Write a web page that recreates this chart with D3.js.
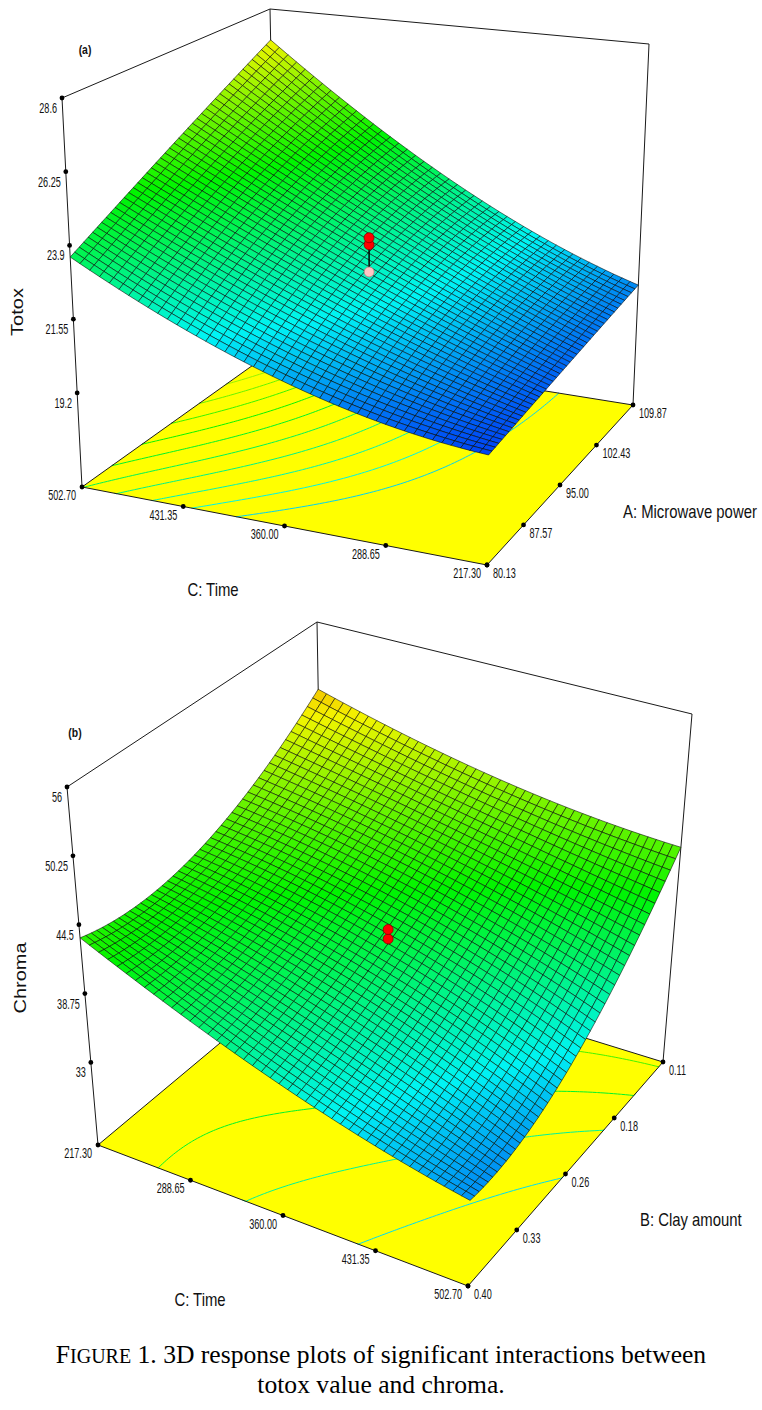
<!DOCTYPE html>
<html><head><meta charset="utf-8">
<script src="https://cdn.jsdelivr.net/npm/d3@7"></script>
<style>body{margin:0;background:#fff}svg{display:block}</style>
</head><body>
<svg id="chart" width="762" height="1410"></svg>
<script>
// ---------------- data ----------------
const timeTicks = [217.30, 288.65, 360.00, 431.35, 502.70];
const timeTickLabels = ["217.30", "288.65", "360.00", "431.35", "502.70"];
const powerTicks = [80.13, 87.57, 95.00, 102.43, 109.87];
const powerTickLabels = ["80.13", "87.57", "95.00", "102.43", "109.87"];
const clayTicks = [0.11, 0.1825, 0.255, 0.3275, 0.40];
const clayTickLabels = ["0.11", "0.18", "0.26", "0.33", "0.40"];
const totoxTicks = [19.2, 21.55, 23.9, 26.25, 28.6];
const totoxTickLabels = ["19.2", "21.55", "23.9", "26.25", "28.6"];
const chromaTicks = [33, 38.75, 44.5, 50.25, 56];
const chromaTickLabels = ["33", "38.75", "44.5", "50.25", "56"];

// factor levels (low, centre, high)
const timeLevels = [217.30, 360.00, 502.70];
const powerLevels = [80.13, 95.00, 109.87];
const clayLevels = [0.11, 0.255, 0.40];
// response (rows: 2nd factor, cols: time)
const totoxGrid = [
  [19.52, 20.70, 23.53],   // A = 80.13
  [19.90, 22.30, 25.38],   // A = 95.00
  [20.32, 23.00, 27.47]    // A = 109.87
];
const chromaGrid = [
  [50.00, 46.20, 44.55],   // B = 0.11
  [43.50, 40.40, 35.20],   // B = 0.255
  [43.40, 36.90, 33.00]    // B = 0.40
];
// design (centre) points
const totoxCenterPts = [23.26, 23.03, 22.13];
const chromaCenterPts = [41.6, 40.8];
// floor contour levels
const totoxLevels = [21.22, 21.79, 22.36, 22.93, 23.50, 24.07, 24.64, 25.21, 25.78, 26.35, 26.92];
const chromaLevels = [35, 38, 41, 44, 47];

// ---------------- helpers ----------------
const svg = d3.select('#chart');
const colormap = d3.scaleLinear().domain([0, .25, .5, .75, 1])
  .range(['#0000ff', '#00ffff', '#00ff00', '#ffff00', '#ff0000']).clamp(true);

// box projection: interpolate between the 8 drawn corners of the box
function makeProjection(frame) {
  return (u, v, w) => {
    let x = 0, y = 0;
    frame.forEach(c => {
      const [a, b, e] = c.uvw;
      const wt = (a ? u : 1 - u) * (b ? v : 1 - v) * (e ? w : 1 - w);
      x += wt * c.xy[0]; y += wt * c.xy[1];
    });
    return [x, y, v - u - 0.6 * w];
  };
}
function lagrange(levels, x) {
  const [a, b, c] = levels;
  return [(x - b) * (x - c) / ((a - b) * (a - c)), (x - a) * (x - c) / ((b - a) * (b - c)), (x - a) * (x - b) / ((c - a) * (c - b))];
}

const panels = [
  {
    letter: '(a)', zTitle: 'Totox', uTitle: 'C: Time', vTitle: 'A: Microwave power',
    uDomain: [502.70, 217.30], uTicks: timeTicks, uLabels: timeTickLabels,
    vDomain: [80.13, 109.87], vTicks: powerTicks, vLabels: powerTickLabels,
    zDomain: [16.2, 28.6], zTicks: totoxTicks, zLabels: totoxTickLabels,
    grid: totoxGrid, rowLevels: powerLevels, colLevels: timeLevels,
    colorDomain: [18.70, 30.40], levels: totoxLevels,
    points: totoxCenterPts, pointAt: { u: 360.00, v: 95.00 },
    frame: [
      { uvw: [0, 0, 0], xy: [82, 487] }, { uvw: [1, 0, 0], xy: [487, 565] },
      { uvw: [1, 1, 0], xy: [633, 405] }, { uvw: [0, 1, 0], xy: [277, 348] },
      { uvw: [0, 0, 1], xy: [62, 98] }, { uvw: [1, 0, 1], xy: [493, 154] },
      { uvw: [1, 1, 1], xy: [649, 44] }, { uvw: [0, 1, 1], xy: [270, 9] }
    ],
    letterPos: [85, 54], zTitlePos: [17, 312], uTitlePos: [213, 596], vTitlePos: [623, 518]
  },
  {
    letter: '(b)', zTitle: 'Chroma', uTitle: 'C: Time', vTitle: 'B: Clay amount',
    uDomain: [217.30, 502.70], uTicks: timeTicks, uLabels: timeTickLabels,
    vDomain: [0.40, 0.11], vTicks: clayTicks, vLabels: clayTickLabels,
    zDomain: [26.1, 56], zTicks: chromaTicks, zLabels: chromaTickLabels,
    grid: chromaGrid, rowLevels: clayLevels, colLevels: timeLevels,
    colorDomain: [29.07, 55.25], levels: chromaLevels,
    points: chromaCenterPts, pointAt: { u: 360.00, v: 0.255 },
    frame: [
      { uvw: [0, 0, 0], xy: [98, 1145] }, { uvw: [1, 0, 0], xy: [468, 1286] },
      { uvw: [1, 1, 0], xy: [663, 1062] }, { uvw: [0, 1, 0], xy: [323, 957] },
      { uvw: [0, 0, 1], xy: [67, 787] }, { uvw: [1, 0, 1], xy: [477, 915] },
      { uvw: [1, 1, 1], xy: [692, 714] }, { uvw: [0, 1, 1], xy: [317, 622] }
    ],
    letterPos: [75, 737], zTitlePos: [20, 978], uTitlePos: [200, 1306], vTitlePos: [640, 1226]
  }
];

const MESH = 44;
const sansFont = '"Liberation Sans", Arial, sans-serif';

function drawPanel(cfg) {
  const g = svg.append('g');
  const uS = d3.scaleLinear().domain(cfg.uDomain).range([0, 1]);
  const vS = d3.scaleLinear().domain(cfg.vDomain).range([0, 1]);
  const wS = d3.scaleLinear().domain(cfg.zDomain).range([0, 1]);
  const colorT = d3.scaleLinear().domain(cfg.colorDomain).range([0, 1]);
  const shade = z => d3.rgb(colormap(colorT(z))).darker(0.12).formatHex();
  const proj = makeProjection(cfg.frame);
  const P = (u, v, w) => proj(u, v, w).slice(0, 2);
  const model = (rowVal, colVal) => {
    const lr = lagrange(cfg.rowLevels, rowVal), lc = lagrange(cfg.colLevels, colVal);
    let z = 0;
    for (let j = 0; j < 3; j++) for (let i = 0; i < 3; i++) z += cfg.grid[j][i] * lr[j] * lc[i];
    return z;
  };
  const zAt = (u, v) => model(vS.invert(v), uS.invert(u));
  const line = d3.line();
  const ink = '#1a1a1a';

  // back box edges
  const edges = [[[0, 0, 1], [0, 1, 1]], [[0, 1, 1], [1, 1, 1]], [[0, 1, 1], [0, 1, 0]],
    [[0, 0, 0], [0, 0, 1]], [[1, 1, 0], [1, 1, 1]]];
  g.selectAll('path.edge').data(edges).join('path').attr('class', 'edge')
    .attr('d', e => line(e.map(p => P(...p))))
    .attr('fill', 'none').attr('stroke', ink).attr('stroke-width', 1);

  // floor
  const floor = [[0, 0, 0], [1, 0, 0], [1, 1, 0], [0, 1, 0]].map(p => P(...p));
  g.append('path').attr('d', line(floor) + 'Z').attr('fill', '#ffff00').attr('stroke', 'none');

  // floor contours
  const n = 101, vals = new Array(n * n);
  for (let j = 0; j < n; j++) for (let i = 0; i < n; i++) vals[j * n + i] = zAt(i / (n - 1), j / (n - 1));
  const cont = d3.contours().size([n, n]).thresholds(cfg.levels).smooth(true)(vals);
  const cl = x => Math.max(0, Math.min(1, (x - 0.5) / (n - 1)));
  cont.forEach(c => {
    let d = '';
    c.coordinates.forEach(poly => poly.forEach(ring => {
      let pen = false;
      for (let k = 1; k < ring.length; k++) {
        const a = ring[k - 1], b = ring[k];
        const same = (a[0] <= 0 && b[0] <= 0) || (a[0] >= n && b[0] >= n) ||
          (a[1] <= 0 && b[1] <= 0) || (a[1] >= n && b[1] >= n);
        if (same) { pen = false; continue; }
        if (!pen) { const s = P(cl(a[0]), cl(a[1]), 0); d += `M${s[0]},${s[1]}`; pen = true; }
        const s = P(cl(b[0]), cl(b[1]), 0); d += `L${s[0]},${s[1]}`;
      }
    }));
    if (d) g.append('path').attr('d', d).attr('fill', 'none')
      .attr('stroke', shade(c.value)).attr('stroke-width', 1);
  });
  g.append('path').attr('d', line(floor) + 'Z').attr('fill', 'none')
    .attr('stroke', ink).attr('stroke-width', 1);

  // surface mesh (painter's order, far cells first)
  const cells = [];
  for (let i = 0; i < MESH; i++) for (let j = 0; j < MESH; j++) {
    const corners = [[i, j], [i + 1, j], [i + 1, j + 1], [i, j + 1]].map(([a, b]) => {
      const u = a / MESH, v = b / MESH;
      return { u, v, z: zAt(u, v) };
    });
    const pr = corners.map(c => proj(c.u, c.v, wS(c.z)));
    cells.push({ pts: pr.map(p => [p[0], p[1]]), depth: d3.mean(pr, p => p[2]), z: d3.mean(corners, c => c.z) });
  }
  cells.sort((a, b) => b.depth - a.depth);
  g.append('g').selectAll('path').data(cells).join('path')
    .attr('d', c => line(c.pts) + 'Z')
    .attr('fill', c => shade(c.z))
    .attr('stroke', '#000').attr('stroke-width', 0.55).attr('stroke-linejoin', 'round');

  // design points with drop lines to the surface
  const u0 = uS(cfg.pointAt.u), v0 = vS(cfg.pointAt.v);
  const zs = model(cfg.pointAt.v, cfg.pointAt.u);
  const ps = P(u0, v0, wS(zs));
  cfg.points.forEach(zp => {
    const p = P(u0, v0, wS(zp));
    g.append('line').attr('x1', p[0]).attr('y1', p[1]).attr('x2', ps[0]).attr('y2', ps[1])
      .attr('stroke', '#000').attr('stroke-width', 1);
  });
  cfg.points.slice().sort((a, b) => a - b).forEach(zp => {
    const p = P(u0, v0, wS(zp)), above = zp >= zs;
    g.append('circle').attr('cx', p[0]).attr('cy', p[1]).attr('r', 5)
      .attr('fill', above ? '#ff0000' : '#ffc4c4')
      .attr('stroke', above ? '#8a0000' : '#b08080').attr('stroke-width', 0.8);
  });

  // axis ticks and labels
  const addLabel = (x, y, txt, anchor) => g.append('text')
    .attr('transform', `translate(${x},${y}) scale(0.65,1)`)
    .attr('text-anchor', anchor).attr('font-family', sansFont).attr('font-size', 14)
    .attr('fill', '#111').text(txt);
  const dot = p => g.append('circle').attr('cx', p[0]).attr('cy', p[1]).attr('r', 2.4).attr('fill', '#000');
  cfg.zTicks.forEach((t, k) => {
    const p = P(0, 0, wS(t)); dot(p);
    addLabel(p[0] - 5, p[1] + 15, cfg.zLabels[k], 'end');
  });
  cfg.uTicks.forEach((t, k) => {
    const p = P(uS(t), 0, 0); dot(p);
    addLabel(p[0] - 6, p[1] + 13, cfg.uLabels[k], 'end');
  });
  cfg.vTicks.forEach((t, k) => {
    const p = P(1, vS(t), 0); dot(p);
    addLabel(p[0] + 6, p[1] + 13, cfg.vLabels[k], 'start');
  });

  // titles
  g.append('text').attr('transform', `translate(${cfg.letterPos[0]},${cfg.letterPos[1]}) scale(0.8,1)`)
    .attr('text-anchor', 'middle').attr('font-family', sansFont).attr('font-weight', 'bold')
    .attr('font-size', 13).attr('fill', '#111').text(cfg.letter);
  g.append('text').attr('transform', `translate(${cfg.uTitlePos[0]},${cfg.uTitlePos[1]}) scale(0.8,1)`)
    .attr('text-anchor', 'middle').attr('font-family', sansFont).attr('font-size', 18.6)
    .attr('fill', '#111').text(cfg.uTitle);
  g.append('text').attr('transform', `translate(${cfg.vTitlePos[0]},${cfg.vTitlePos[1]}) scale(0.8,1)`)
    .attr('text-anchor', 'start').attr('font-family', sansFont).attr('font-size', 18.6)
    .attr('fill', '#111').text(cfg.vTitle);
  g.append('text').attr('transform', `translate(${cfg.zTitlePos[0]},${cfg.zTitlePos[1]}) rotate(-90) scale(1,0.8)`)
    .attr('text-anchor', 'middle').attr('dy', '0.35em').attr('font-family', sansFont).attr('font-size', 20)
    .attr('fill', '#111').text(cfg.zTitle);
}

panels.forEach(drawPanel);

// caption
const serif = '"Liberation Serif", "Times New Roman", serif';
const cap = svg.append('text').attr('x', 381).attr('y', 1363).attr('text-anchor', 'middle')
  .attr('font-family', serif).attr('font-size', 25.6).attr('fill', '#000');
cap.append('tspan').text('F');
cap.append('tspan').attr('font-size', 20).text('IGURE');
cap.append('tspan').text(' 1. 3D response plots of significant interactions between');
svg.append('text').attr('x', 381).attr('y', 1393).attr('text-anchor', 'middle')
  .attr('font-family', serif).attr('font-size', 25.6).attr('fill', '#000')
  .text('totox value and chroma.');
</script>
</body></html>
